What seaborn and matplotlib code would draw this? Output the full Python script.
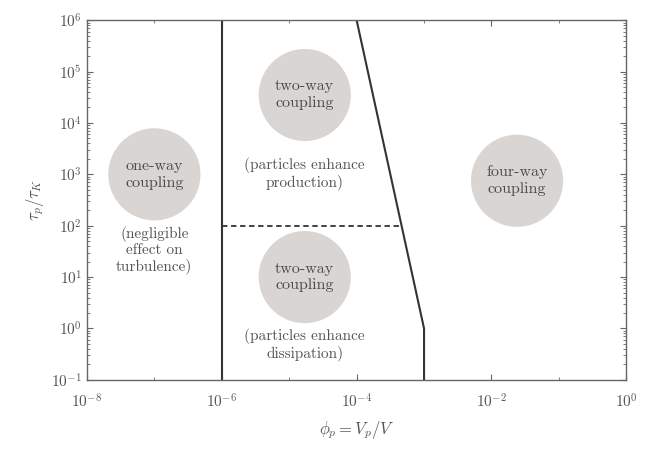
import matplotlib
matplotlib.use("Agg")
import matplotlib.pyplot as plt
import matplotlib.ticker as mticker
import seaborn as sns
import pandas as pd
import numpy as np

# ---- data ----
region_labels = ["one-way\ncoupling", "two-way\ncoupling", "two-way\ncoupling", "four-way\ncoupling"]
region_x = [1e-7, 1.7e-5, 1.7e-5, 2.4e-2]
region_y = [1e3, 3.5e4, 1e1, 7.5e2]

caption_texts = ["(negligible\neffect on\nturbulence)",
                 "(particles enhance\nproduction)",
                 "(particles enhance\ndissipation)"]
caption_x = [1e-7, 1.7e-5, 1.7e-5]
caption_y = [3.4e1, 1.05e3, 4.8e-1]

left_bound_x = [1e-6, 1e-6]
left_bound_y = [1e-1, 1e6]
right_bound_x = [1e-4, 1e-3, 1e-3]
right_bound_y = [1e6, 1e0, 1e-1]
split_x = [1e-6, 4.6e-4]
split_y = [1e2, 1e2]

x_ticks = [1e-8, 1e-6, 1e-4, 1e-2, 1e0]
y_ticks = [1e-1, 1e0, 1e1, 1e2, 1e3, 1e4, 1e5, 1e6]

# ---- style ----
sns.set_style("ticks")
plt.rcParams["font.family"] = ["cmr10", "DejaVu Serif"]
plt.rcParams["mathtext.fontset"] = "cm"
plt.rcParams["axes.formatter.use_mathtext"] = True

line_col = "#333333"
text_col = "#555555"

fig = plt.figure(figsize=(6.49, 4.49), dpi=100)
ax = fig.add_axes([0.134, 0.154, 0.831, 0.801])
ax.set_xscale("log")
ax.set_yscale("log")

df_reg = pd.DataFrame({"x": region_x, "y": region_y})
sns.scatterplot(data=df_reg, x="x", y="y", s=4400, color="#d8d5d2",
                edgecolor="none", ax=ax, zorder=1, legend=False)

for lx, ly, txt in zip(region_x, region_y, region_labels):
    ax.text(lx, ly, txt, ha="center", va="center", fontsize=11.5,
            color="#4a4a4a", linespacing=1.25, zorder=3)
for cx, cy, txt in zip(caption_x, caption_y, caption_texts):
    ax.text(cx, cy, txt, ha="center", va="center", fontsize=11,
            color=text_col, linespacing=1.12, zorder=3)

sns.lineplot(x=left_bound_x, y=left_bound_y, sort=False, color=line_col,
             lw=1.5, ax=ax, estimator=None)
sns.lineplot(x=right_bound_x, y=right_bound_y, sort=False, color=line_col,
             lw=1.5, ax=ax, estimator=None)
ax.plot(split_x, split_y, color=line_col, lw=1.3, ls=(0, (3, 2)))

ax.set_xlim(1e-8, 1e0)
ax.set_ylim(1e-1, 1e6)
ax.set_xticks(x_ticks)
ax.xaxis.set_minor_locator(mticker.FixedLocator([1e-7, 1e-5, 1e-3, 1e-1]))
ax.xaxis.set_minor_formatter(mticker.NullFormatter())
ax.set_yticks(y_ticks)
ax.yaxis.set_minor_locator(mticker.LogLocator(base=10, subs=np.arange(2, 10), numticks=20))
ax.yaxis.set_minor_formatter(mticker.NullFormatter())

ax.tick_params(which="both", direction="in", colors="#666666", labelcolor="#555555",
               labelsize=11, top=True, right=True)
ax.tick_params(axis="x", which="major", pad=9)
ax.tick_params(which="major", length=4)
ax.tick_params(which="minor", length=2)
for sp in ax.spines.values():
    sp.set_visible(True)
    sp.set_color("#666666")
    sp.set_linewidth(1.0)

ax.set_xlabel(r"$\phi_p = V_p/V$", fontsize=12, color="#555555", labelpad=6)
ax.set_ylabel(r"$\tau_p/\tau_K$", fontsize=12, color="#555555", labelpad=4)

fig.savefig("out.png", dpi=100)
